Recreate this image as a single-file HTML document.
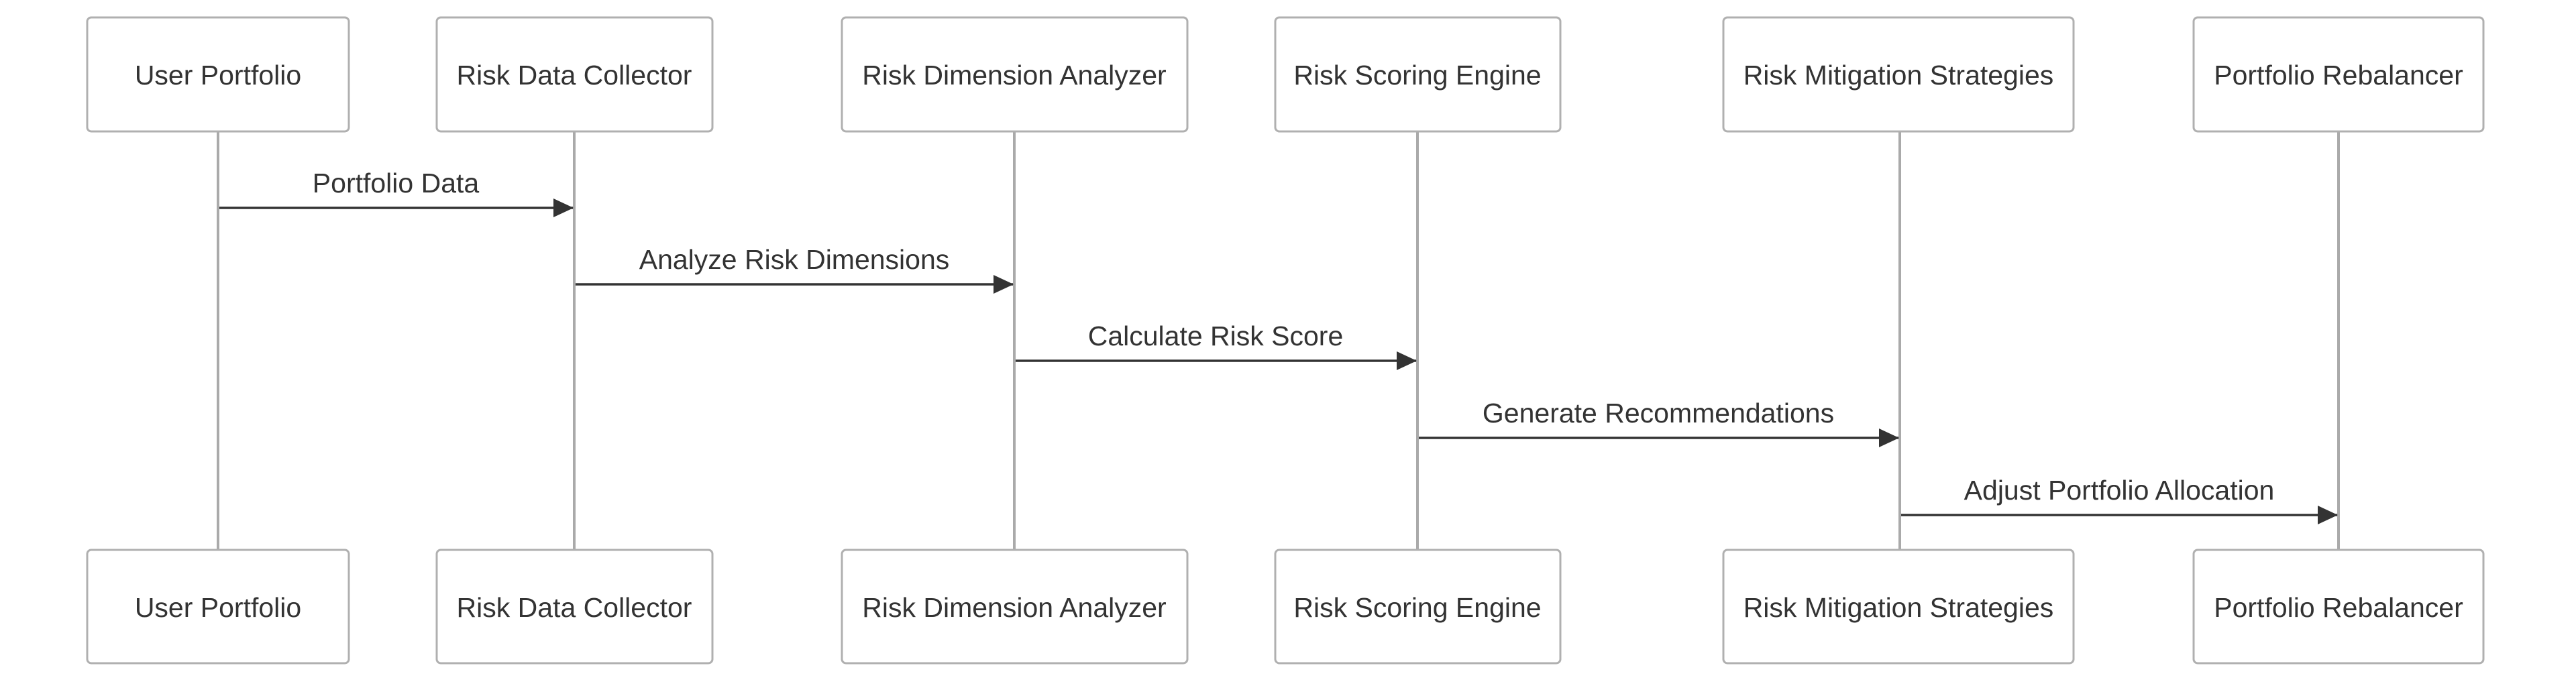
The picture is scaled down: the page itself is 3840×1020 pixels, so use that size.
<!DOCTYPE html>
<html><head><meta charset="utf-8"><style>
html,body{margin:0;padding:0;background:#fff;}
svg{display:block;}
text{font-family:"Liberation Sans",Arial,sans-serif;fill:#333;}
</style></head><body>
<svg width="3840" height="1020" viewBox="0 0 3840 1020" xmlns="http://www.w3.org/2000/svg">
<defs>
<marker id="ah" markerWidth="30" markerHeight="28" refX="29" refY="14" orient="auto" markerUnits="userSpaceOnUse">
<path d="M0,0 L30,14 L0,28 Z" fill="#333"/>
</marker>
</defs>
<g stroke="#aaa" stroke-width="4">
<line x1="325" y1="196" x2="325" y2="820"/>
<line x1="856" y1="196" x2="856" y2="820"/>
<line x1="1512" y1="196" x2="1512" y2="820"/>
<line x1="2113" y1="196" x2="2113" y2="820"/>
<line x1="2832" y1="196" x2="2832" y2="820"/>
<line x1="3486" y1="196" x2="3486" y2="820"/>
</g>
<g fill="#fff" stroke="#b0b0b0" stroke-width="3">
<rect x="130" y="26" width="390" height="170" rx="6"/>
<rect x="651" y="26" width="411" height="170" rx="6"/>
<rect x="1255" y="26" width="515" height="170" rx="6"/>
<rect x="1901" y="26" width="425" height="170" rx="6"/>
<rect x="2569" y="26" width="522" height="170" rx="6"/>
<rect x="3270" y="26" width="432" height="170" rx="6"/>
<rect x="130" y="820" width="390" height="169" rx="6"/>
<rect x="651" y="820" width="411" height="169" rx="6"/>
<rect x="1255" y="820" width="515" height="169" rx="6"/>
<rect x="1901" y="820" width="425" height="169" rx="6"/>
<rect x="2569" y="820" width="522" height="169" rx="6"/>
<rect x="3270" y="820" width="432" height="169" rx="6"/>
</g>
<g font-size="41" text-anchor="middle">
<text x="325" y="126">User Portfolio</text>
<text x="856" y="126">Risk Data Collector</text>
<text x="1512" y="126">Risk Dimension Analyzer</text>
<text x="2113" y="126">Risk Scoring Engine</text>
<text x="2830" y="126">Risk Mitigation Strategies</text>
<text x="3486" y="126">Portfolio Rebalancer</text>
<text x="325" y="920">User Portfolio</text>
<text x="856" y="920">Risk Data Collector</text>
<text x="1512" y="920">Risk Dimension Analyzer</text>
<text x="2113" y="920">Risk Scoring Engine</text>
<text x="2830" y="920">Risk Mitigation Strategies</text>
<text x="3486" y="920">Portfolio Rebalancer</text>
</g>
<g stroke="#333" stroke-width="3.5" marker-end="url(#ah)">
<line x1="327" y1="310" x2="854" y2="310"/>
<line x1="858" y1="424" x2="1510" y2="424"/>
<line x1="1514" y1="538" x2="2111" y2="538"/>
<line x1="2115" y1="653" x2="2830" y2="653"/>
<line x1="2834" y1="768" x2="3484" y2="768"/>
</g>
<g font-size="41" text-anchor="middle">
<text x="590" y="287">Portfolio Data</text>
<text x="1184" y="401">Analyze Risk Dimensions</text>
<text x="1812" y="515">Calculate Risk Score</text>
<text x="2472" y="630">Generate Recommendations</text>
<text x="3159" y="745">Adjust Portfolio Allocation</text>
</g>
</svg>
</body></html>
